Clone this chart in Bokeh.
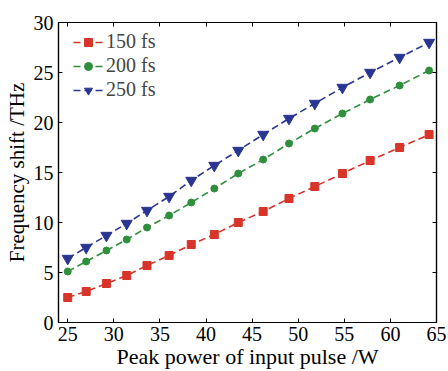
from bokeh.plotting import figure
from bokeh.models import LinearAxis, Range1d, FixedTicker, Legend, LegendItem
from bokeh.embed import file_html
from bokeh.resources import INLINE

power = [25, 27, 29.2, 31.4, 33.6, 36, 38.4, 40.9, 43.5, 46.2, 49, 51.8, 54.8, 57.8, 61, 64.2]
shift_150 = [2.5, 3.1, 3.9, 4.7, 5.7, 6.7, 7.8, 8.8, 10.0, 11.1, 12.4, 13.6, 14.9, 16.2, 17.5, 18.8]
shift_200 = [5.1, 6.1, 7.2, 8.3, 9.5, 10.7, 12.0, 13.4, 14.9, 16.3, 17.9, 19.4, 20.9, 22.3, 23.7, 25.2]
shift_250 = [6.4, 7.5, 8.7, 9.9, 11.2, 12.6, 14.2, 15.7, 17.2, 18.8, 20.4, 21.9, 23.5, 25.0, 26.5, 28.0]
labels = ["150 fs", "200 fs", "250 fs"]
x_ticks = [25, 30, 35, 40, 45, 50, 55, 60, 65]
y_ticks = [0, 5, 10, 15, 20, 25, 30]

FONT = "Liberation Serif"
RED, GREEN, BLUE = "#d8352a", "#2f8f3c", "#2a3592"

p = figure(width=448, height=371, output_backend="svg", toolbar_location=None,
           x_range=Range1d(24, 65), y_range=Range1d(0, 30),
           min_border_left=58, min_border_right=12, min_border_top=22, min_border_bottom=49)
p.grid.visible = False
p.outline_line_color = "black"
p.outline_line_width = 1.2
p.background_fill_color = "white"
p.border_fill_color = "white"

def style_axis(ax, ticks, show_labels=True):
    ax.ticker = FixedTicker(ticks=ticks)
    ax.major_tick_in = 4
    ax.major_tick_out = 0
    ax.minor_tick_in = 0
    ax.minor_tick_out = 0
    ax.axis_line_color = "black"
    ax.major_tick_line_color = "black"
    ax.axis_line_width = 1.2
    ax.major_label_text_font = FONT
    ax.major_label_text_font_size = "20px"
    ax.major_label_text_color = "black"
    ax.major_label_standoff = 5
    if not show_labels:
        ax.major_label_overrides = {t: "" for t in ticks}
        ax.major_label_standoff = 0
    ax.axis_label_text_font = FONT
    ax.axis_label_text_font_style = "normal"
    ax.axis_label_text_color = "black"

p.xaxis.axis_label = "Peak power of input pulse /W"
p.yaxis.axis_label = "Frequency shift /THz"
style_axis(p.xaxis[0], x_ticks)
style_axis(p.yaxis[0], y_ticks)
p.xaxis.axis_label_text_font_size = "22px"
p.yaxis.axis_label_text_font_size = "21px"
p.xaxis.major_label_standoff = 4
p.xaxis.axis_label_standoff = 0
p.yaxis.axis_label_standoff = 2

top = LinearAxis()
style_axis(top, x_ticks, False)
p.add_layout(top, "above")
right = LinearAxis()
style_axis(right, y_ticks, False)
p.add_layout(right, "right")

items = []
for ys, col, mk, sz, lab in [(shift_150, RED, "square", 8, labels[0]),
                              (shift_200, GREEN, "circle", 7, labels[1]),
                              (shift_250, BLUE, "inverted_triangle", 11, labels[2])]:
    ln = p.line(power, ys, line_color=col, line_width=1.6, line_dash="7 4")
    sc = p.scatter(power, ys, marker=mk, size=sz, fill_color=col, line_color=col)
    items.append(LegendItem(label=lab, renderers=[ln, sc]))

leg = Legend(items=items, location=(15, 221))
leg.background_fill_alpha = 0
leg.border_line_color = None
leg.label_text_font = FONT
leg.label_text_font_size = "20px"
leg.glyph_width = 30
leg.glyph_height = 20
leg.label_height = 20
leg.spacing = 1
leg.padding = 7
leg.margin = 0
leg.label_standoff = 3
p.add_layout(leg, "center")

open("out.html", "w").write(file_html(p, INLINE))
